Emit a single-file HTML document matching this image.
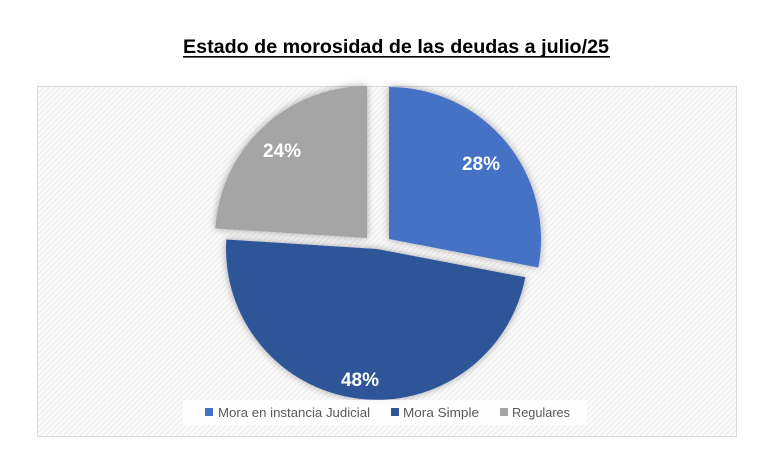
<!DOCTYPE html>
<html><head><meta charset="utf-8"><style>
html,body{margin:0;padding:0;background:#fff;}
svg{display:block;}
</style></head><body>
<svg width="781" height="474" xmlns="http://www.w3.org/2000/svg">
<defs>
<pattern id="h" width="4" height="4" patternUnits="userSpaceOnUse" patternTransform="rotate(45)">
<rect width="4" height="4" fill="#fbfbfb"/><rect width="1.5" height="4" fill="#efefef"/>
</pattern>
<filter id="s" x="-20%" y="-20%" width="140%" height="140%"><feGaussianBlur in="SourceAlpha" stdDeviation="4"/><feOffset dx="0" dy="0"/><feComponentTransfer><feFuncA type="linear" slope="0.35"/></feComponentTransfer><feMerge><feMergeNode/><feMergeNode in="SourceGraphic"/></feMerge></filter>
</defs>
<rect x="0" y="0" width="781" height="474" fill="#fff"/>
<text x="396" y="53" text-anchor="middle" font-family="'Liberation Sans',sans-serif" font-weight="bold" font-size="19" textLength="426" lengthAdjust="spacingAndGlyphs" fill="#000">Estado de morosidad de las deudas a julio/25</text>
<rect x="183" y="56" width="427" height="1.6" fill="#000"/>
<rect x="37.5" y="86.5" width="699" height="350" fill="url(#h)" stroke="#d9d9d9" stroke-width="1"/>
<g filter="url(#s)">
<path d="M389,239 L389,87 A152,152 0 0 1 538.3,267.5 Z" fill="#4472c4"/>
<path d="M377,249 L525.3,277.3 A151,151 0 0 1 226.3,239.5 Z" fill="#2f5597"/>
<path d="M367,238 L215.3,228.5 A152,152 0 0 1 367,86 Z" fill="#a5a5a5"/>
</g>
<g font-family="'Liberation Sans',sans-serif" font-weight="bold" font-size="19" fill="#fff" text-anchor="middle">
<text x="481" y="170">28%</text>
<text x="282" y="157">24%</text>
<text x="360" y="386">48%</text>
</g>
<rect x="183" y="400" width="404" height="25" fill="#fff" opacity="0.85"/>
<g font-family="'Liberation Sans',sans-serif" font-size="13" fill="#595959">
<rect x="205" y="408" width="8" height="8" fill="#4472c4"/>
<text x="218" y="417" textLength="152" lengthAdjust="spacingAndGlyphs">Mora en instancia Judicial</text>
<rect x="391" y="408" width="8" height="8" fill="#2f5597"/>
<text x="403" y="417" textLength="76" lengthAdjust="spacingAndGlyphs">Mora Simple</text>
<rect x="500" y="408" width="8" height="8" fill="#a5a5a5"/>
<text x="512" y="417" textLength="58" lengthAdjust="spacingAndGlyphs">Regulares</text>
</g>
</svg>
</body></html>
